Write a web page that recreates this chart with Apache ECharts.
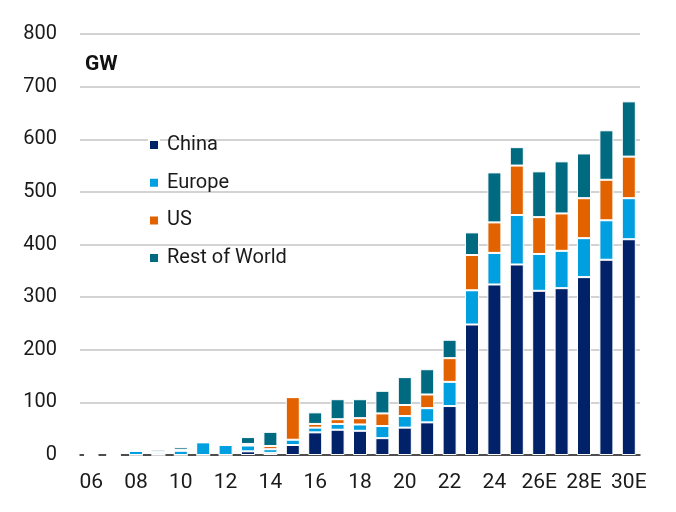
<!DOCTYPE html>
<html>
<head>
<meta charset="utf-8">
<script src="https://cdn.jsdelivr.net/npm/echarts@6/dist/echarts.min.js"></script>
<style>html,body{margin:0;padding:0;background:#fff}#c{width:676px;height:512px}</style>
</head>
<body>
<div id="c"></div>
<script>
const categories = ['06','07','08','09','10','11','12','13','14','15','16','17','18','19','20','21','22','23','24','25','26E','27E','28E','29E','30E'];
const china  = [0,0,0,0,0,0,0,7,4,19,43,48,46,32,52,62,93,248,324,362,312,317,338,371,410];
const europe = [0,0,8,4,8,24,19,11,7,10,9,11,12,23,22,27,46,65,60,94,70,71,74,75,78];
const us     = [0,0,0,2,2,1,4,3,6,81,7,9,12,24,21,26,45,67,58,94,70,71,76,77,79];
const row    = [0,0,0,4,5,2,0,13,27,0,22,38,36,43,53,48,35,43,95,35,87,99,85,94,105];
const yTicks = [0,100,200,300,400,500,600,700,800];

const colors = {China:'#012169', Europe:'#009FDF', US:'#E36200', 'Rest of World':'#006A80'};
const font = 'Roboto, "Liberation Sans", sans-serif';

function mk(name, data){
  return {name, type:'bar', stack:'t', data, barWidth:14,
    itemStyle:{color:colors[name], borderColor:'#ffffff', borderWidth:1},
    emphasis:{disabled:true}};
}

const chart = echarts.init(document.getElementById('c'));
chart.setOption({
  animation:false,
  backgroundColor:'#ffffff',
  grid:{left:80, right:36, top:34, bottom:57},
  legend:{orient:'vertical', left:148, top:135, padding:0, itemWidth:10, itemHeight:10, itemGap:17.7,
    icon:'rect', data:['China','Europe','US','Rest of World'],
    textStyle:{fontFamily:font, fontSize:20, color:'#1a1a1a', padding:[0,0,0,3]}},
  graphic:[{type:'text', left:85, top:54, style:{text:'GW', font:'bold 21px '+font, fill:'#111'}}],
  xAxis:{type:'category', data:categories,
    axisLine:{lineStyle:{color:'#222', width:1.5}},
    axisTick:{show:false},
    axisLabel:{interval:1, margin:17, fontFamily:font, fontSize:21, color:'#1a1a1a'}},
  yAxis:{type:'value', min:yTicks[0], max:yTicks[yTicks.length-1], interval:100,
    axisLine:{show:false}, axisTick:{show:false},
    splitLine:{lineStyle:{color:'#c4c4c4', width:1.5}},
    axisLabel:{margin:23, fontFamily:font, fontSize:20, color:'#1a1a1a'}},
  series:[mk('China',china), mk('Europe',europe), mk('US',us), mk('Rest of World',row)]
});
</script>
</body>
</html>
